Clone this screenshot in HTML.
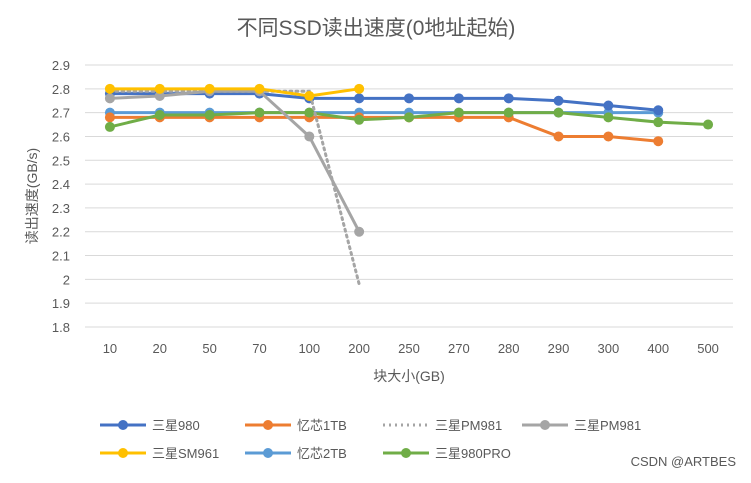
<!DOCTYPE html>
<html><head><meta charset="utf-8"><style>
body{margin:0;background:#fff;font-family:"Liberation Sans","Noto Sans CJK SC",sans-serif;}
svg text{font-family:"Liberation Sans","Noto Sans CJK SC",sans-serif;}
</style></head><body>
<svg id="chart" width="751" height="478" xmlns="http://www.w3.org/2000/svg">
<rect width="751" height="478" fill="#fff"/>
<text x="376" y="35" text-anchor="middle" font-size="21" fill="#595959">不同SSD读出速度(0地址起始)</text>
<text transform="translate(37,196) rotate(-90)" text-anchor="middle" font-size="14" fill="#595959">读出速度(GB/s)</text>
<text x="409" y="381" text-anchor="middle" font-size="14" fill="#595959">块大小(GB)</text>
<g id="grid"></g><g id="series"></g><g id="legend"></g>
<text x="736" y="466" text-anchor="end" font-size="13" fill="#595959">CSDN @ARTBES</text>
</svg>
<script>
const categories=["10","20","50","70","100","200","250","270","280","290","300","400","500"];
const yTicks=[1.8,1.9,2,2.1,2.2,2.3,2.4,2.5,2.6,2.7,2.8,2.9];
const s980=[2.78,2.78,2.78,2.78,2.76,2.76,2.76,2.76,2.76,2.75,2.73,2.71];
const xx1tb=[2.68,2.68,2.68,2.68,2.68,2.68,2.68,2.68,2.68,2.60,2.60,2.58];
const pm981a=[2.79,2.79,2.79,2.79,2.79,1.98];
const pm981b=[2.76,2.77,2.79,2.79,2.60,2.20];
const sm961=[2.80,2.80,2.80,2.80,2.77,2.80];
const xx2tb=[2.70,2.70,2.70,2.70,2.70,2.70,2.70,2.70,2.70,2.70,2.70,2.70];
const s980pro=[2.64,2.69,2.69,2.70,2.70,2.67,2.68,2.70,2.70,2.70,2.68,2.66,2.65];
const names=["三星980","忆芯1TB","三星PM981","三星PM981","三星SM961","忆芯2TB","三星980PRO"];
const NS="http://www.w3.org/2000/svg";
const L=85,R=733,T=65,B=327;
const x=i=>L+(R-L)/categories.length*(i+0.5);
const y=v=>B-(v-1.8)/(1.1)*(B-T);
function mk(t,a,p){const e=document.createElementNS(NS,t);for(const k in a)e.setAttribute(k,a[k]);p.appendChild(e);return e;}
const grid=document.getElementById('grid');
yTicks.forEach(v=>{
 const l=mk('line',{x1:L,x2:R,y1:y(v),y2:y(v),stroke:'#d9d9d9','stroke-width':1},grid);
 
 
 const t=mk('text',{x:70,y:y(v)+5,'text-anchor':'end','font-size':13,fill:'#595959'},grid);
 t.textContent=String(v);
 
 
});
categories.forEach((c,i)=>{
 const t=mk('text',{x:x(i),y:353,'text-anchor':'middle','font-size':13,fill:'#595959'},grid);
 t.textContent=c;
 
 
});
const series=[
 {d:s980,c:'#4472c4',m:true},
 {d:xx1tb,c:'#ed7d31',m:true},
 {d:pm981a,c:'#a5a5a5',m:false,dash:'2 4'},
 {d:pm981b,c:'#a5a5a5',m:true},
 {d:sm961,c:'#ffc000',m:true},
 {d:xx2tb,c:'#5b9bd5',m:true},
 {d:s980pro,c:'#70ad47',m:true}];
const sg=document.getElementById('series');
const order=[5,1,6,0,2,3,4];
order.forEach(k=>{const s=series[k];
 const g=mk('g',{},sg);
 
 
 const pl=mk('polyline',{points:s.d.map((v,i)=>x(i)+','+y(v)).join(' '),fill:'none',stroke:s.c,'stroke-width':3,'stroke-linecap':'round'},g);
 if(s.dash)pl.setAttribute('stroke-dasharray',s.dash);
 
 
 if(s.m)s.d.forEach((v,i)=>{const c=mk('circle',{cx:x(i),cy:y(v),r:5,fill:s.c},g);
  
  });
});
const lg=document.getElementById('legend');
const lx=[100,245,383,522],ly=[425,453];
series.forEach((s,k)=>{const cx=lx[k%4],cy=ly[Math.floor(k/4)];
 const g=mk('g',{},lg);
 
 
 const l=mk('line',{x1:cx,x2:cx+46,y1:cy,y2:cy,stroke:s.c,'stroke-width':3},g);
 if(s.dash)l.setAttribute('stroke-dasharray',s.dash);
 if(s.m)mk('circle',{cx:cx+23,cy:cy,r:5,fill:s.c},g);
 const t=mk('text',{x:cx+52,y:cy+5,'font-size':13,fill:'#595959'},g);
 t.textContent=names[k];
});
</script>
</body></html>
